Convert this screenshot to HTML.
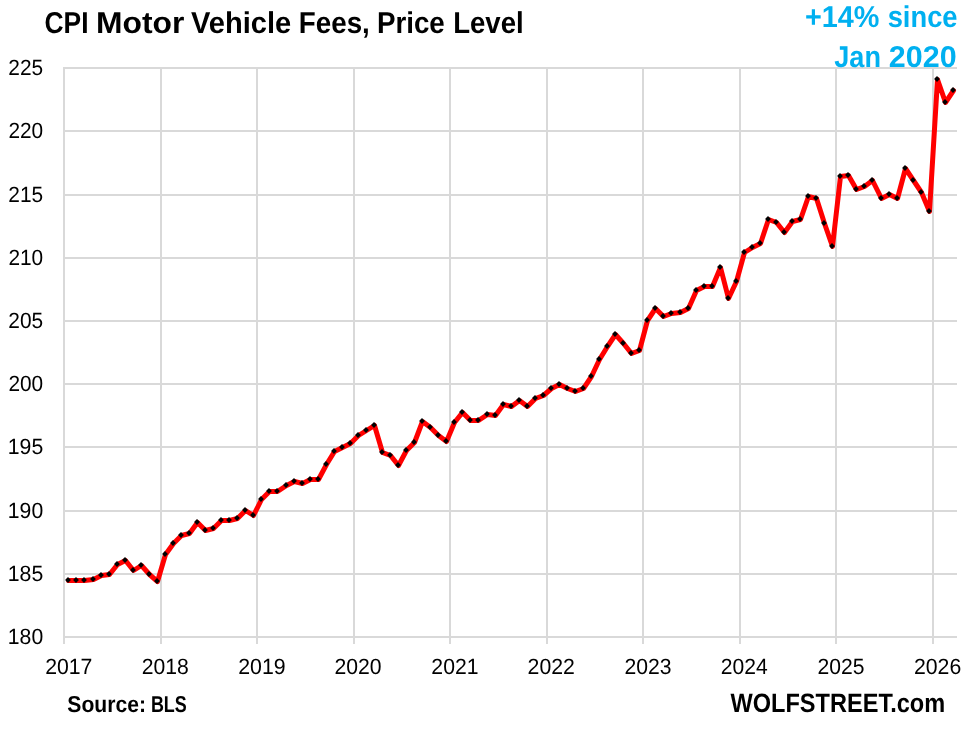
<!DOCTYPE html>
<html><head><meta charset="utf-8">
<style>
html,body{margin:0;padding:0;background:#fff;}
body{width:968px;height:734px;overflow:hidden;}
svg{display:block;will-change:transform;}
text{font-family:"Liberation Sans",sans-serif;text-rendering:geometricPrecision;}
</style></head><body>
<svg width="968" height="734" viewBox="0 0 968 734">
<rect width="968" height="734" fill="#fff"/>
<g fill="#d9d9d9"><rect x="63" y="67" width="894" height="2"/><rect x="63" y="130" width="894" height="2"/><rect x="63" y="194" width="894" height="2"/><rect x="63" y="257" width="894" height="2"/><rect x="63" y="320" width="894" height="2"/><rect x="63" y="383" width="894" height="2"/><rect x="63" y="446" width="894" height="2"/><rect x="63" y="510" width="894" height="2"/><rect x="63" y="573" width="894" height="2"/><rect x="63" y="636" width="894" height="2"/><rect x="63" y="67" width="2" height="577"/><rect x="160" y="67" width="2" height="577"/><rect x="256" y="67" width="2" height="577"/><rect x="353" y="67" width="2" height="577"/><rect x="449" y="67" width="2" height="577"/><rect x="546" y="67" width="2" height="577"/><rect x="642" y="67" width="2" height="577"/><rect x="739" y="67" width="2" height="577"/><rect x="835" y="67" width="2" height="577"/><rect x="932" y="67" width="2" height="577"/></g>
<text x="44.50" y="32.75" font-size="30.2" font-weight="bold" fill="#000" textLength="43.97" lengthAdjust="spacingAndGlyphs">CPI</text>
<text x="95.99" y="32.75" font-size="30.2" font-weight="bold" fill="#000" textLength="88.29" lengthAdjust="spacingAndGlyphs">Motor</text>
<text x="190.97" y="32.75" font-size="30.2" font-weight="bold" fill="#000" textLength="100.29" lengthAdjust="spacingAndGlyphs">Vehicle</text>
<text x="298.87" y="32.75" font-size="30.2" font-weight="bold" fill="#000" textLength="70.93" lengthAdjust="spacingAndGlyphs">Fees,</text>
<text x="376.94" y="32.75" font-size="30.2" font-weight="bold" fill="#000" textLength="67.87" lengthAdjust="spacingAndGlyphs">Price</text>
<text x="453.18" y="32.75" font-size="30.2" font-weight="bold" fill="#000" textLength="70.50" lengthAdjust="spacingAndGlyphs">Level</text>
<text x="804.95" y="26.9" font-size="30.2" font-weight="bold" fill="#00b0f0" textLength="74.47" lengthAdjust="spacingAndGlyphs">+14%</text>
<text x="887.65" y="26.9" font-size="30.2" font-weight="bold" fill="#00b0f0" textLength="69.91" lengthAdjust="spacingAndGlyphs">since</text>
<text x="834.26" y="66.5" font-size="30.2" font-weight="bold" fill="#00b0f0" textLength="46.74" lengthAdjust="spacingAndGlyphs">Jan</text>
<text x="888.86" y="66.5" font-size="30.2" font-weight="bold" fill="#00b0f0" textLength="67.75" lengthAdjust="spacingAndGlyphs">2020</text>
<text x="67.37" y="711.8" font-size="23" font-weight="bold" fill="#000" textLength="78.60" lengthAdjust="spacingAndGlyphs">Source:</text>
<text x="150.89" y="711.8" font-size="23" font-weight="bold" fill="#000" textLength="35.86" lengthAdjust="spacingAndGlyphs">BLS</text>
<text x="730.50" y="711.8" font-size="26.5" font-weight="bold" fill="#000" textLength="214.65" lengthAdjust="spacingAndGlyphs">WOLFSTREET.com</text>
<text x="8.37" y="74.9" font-size="22" font-weight="normal" fill="#000" textLength="34.84" lengthAdjust="spacingAndGlyphs">225</text>
<text x="8.38" y="137.9" font-size="22" font-weight="normal" fill="#000" textLength="34.77" lengthAdjust="spacingAndGlyphs">220</text>
<text x="8.37" y="201.9" font-size="22" font-weight="normal" fill="#000" textLength="34.84" lengthAdjust="spacingAndGlyphs">215</text>
<text x="8.38" y="264.9" font-size="22" font-weight="normal" fill="#000" textLength="34.77" lengthAdjust="spacingAndGlyphs">210</text>
<text x="8.37" y="327.9" font-size="22" font-weight="normal" fill="#000" textLength="34.84" lengthAdjust="spacingAndGlyphs">205</text>
<text x="8.38" y="390.9" font-size="22" font-weight="normal" fill="#000" textLength="34.77" lengthAdjust="spacingAndGlyphs">200</text>
<text x="7.81" y="453.9" font-size="22" font-weight="normal" fill="#000" textLength="35.45" lengthAdjust="spacingAndGlyphs">195</text>
<text x="7.84" y="517.9" font-size="22" font-weight="normal" fill="#000" textLength="35.34" lengthAdjust="spacingAndGlyphs">190</text>
<text x="7.81" y="580.9" font-size="22" font-weight="normal" fill="#000" textLength="35.45" lengthAdjust="spacingAndGlyphs">185</text>
<text x="7.84" y="643.9" font-size="22" font-weight="normal" fill="#000" textLength="35.34" lengthAdjust="spacingAndGlyphs">180</text>
<text x="45.16" y="674" font-size="22" font-weight="normal" fill="#000" textLength="47.30" lengthAdjust="spacingAndGlyphs">2017</text>
<text x="141.69" y="674" font-size="22" font-weight="normal" fill="#000" textLength="47.06" lengthAdjust="spacingAndGlyphs">2018</text>
<text x="238.27" y="674" font-size="22" font-weight="normal" fill="#000" textLength="47.40" lengthAdjust="spacingAndGlyphs">2019</text>
<text x="334.49" y="674" font-size="22" font-weight="normal" fill="#000" textLength="47.12" lengthAdjust="spacingAndGlyphs">2020</text>
<text x="431.37" y="674" font-size="22" font-weight="normal" fill="#000" textLength="47.15" lengthAdjust="spacingAndGlyphs">2021</text>
<text x="527.62" y="674" font-size="22" font-weight="normal" fill="#000" textLength="47.27" lengthAdjust="spacingAndGlyphs">2022</text>
<text x="624.44" y="674" font-size="22" font-weight="normal" fill="#000" textLength="47.08" lengthAdjust="spacingAndGlyphs">2023</text>
<text x="720.86" y="674" font-size="22" font-weight="normal" fill="#000" textLength="46.91" lengthAdjust="spacingAndGlyphs">2024</text>
<text x="817.52" y="674" font-size="22" font-weight="normal" fill="#000" textLength="46.98" lengthAdjust="spacingAndGlyphs">2025</text>
<text x="913.95" y="674" font-size="22" font-weight="normal" fill="#000" textLength="47.30" lengthAdjust="spacingAndGlyphs">2026</text>
<path d="M68.5,580.5 L76.5,580.5 L84.5,580.5 L93.5,579.5 L101.5,575.5 L109.5,574.5 L117.5,564.5 L125.5,560.5 L133.5,570.5 L141.5,565.5 L149.5,574.5 L157.5,581.5 L165.5,554.5 L173.5,543.5 L181.5,535.5 L189.5,533.5 L197.5,522.5 L205.5,530.5 L213.5,528.5 L221.5,520.5 L229.5,520.5 L237.5,518.5 L245.5,510.5 L253.5,515.5 L261.5,499.5 L269.5,491.5 L277.5,491.5 L286.5,485.5 L294.5,481.5 L302.5,483.5 L310.5,479.5 L318.5,479.5 L326.5,464.5 L334.5,451.5 L342.5,447.5 L350.5,443.5 L358.5,435.5 L366.5,430.5 L374.5,425.5 L382.5,452.5 L390.5,455.5 L398.5,465.5 L406.5,450.5 L414.5,442.5 L422.5,421.5 L430.5,427.5 L438.5,435.5 L446.5,441.5 L454.5,422.5 L462.5,412.5 L470.5,420.5 L478.5,420.5 L487.5,414.5 L495.5,415.5 L503.5,404.5 L511.5,406.5 L519.5,400.5 L527.5,406.5 L535.5,398.5 L543.5,395.5 L551.5,388.5 L559.5,384.5 L567.5,388.5 L575.5,391.5 L583.5,388.5 L591.5,376.5 L599.5,359.5 L607.5,346.5 L615.5,334.5 L623.5,343.5 L631.5,353.5 L639.5,350.5 L647.5,320.5 L655.5,308.5 L663.5,316.5 L671.5,313.5 L680.5,312.5 L688.5,308.5 L696.5,290.5 L704.5,286.5 L712.5,286.5 L720.5,267.5 L728.5,298.5 L736.5,281.5 L744.5,252.5 L752.5,247.5 L760.5,243.5 L768.5,219.5 L776.5,222.5 L784.5,232.5 L792.5,221.5 L800.5,219.5 L808.5,196.5 L816.5,198.5 L824.5,223.5 L832.5,246.5 L840.5,176.5 L848.5,175.5 L856.5,189.5 L864.5,186.5 L872.5,180.5 L881.5,198.5 L889.5,194.5 L897.5,198.5 L905.5,168.5 L913.5,180.5 L921.5,192.5 L929.5,211.5 L937.5,79.5 L945.5,102.5 L953.5,90.5" fill="none" stroke="#ff0000" stroke-width="5" stroke-linejoin="round" stroke-linecap="round"/>
<path d="M68,577.1l2.9,2.9l-2.9,2.9l-2.9,-2.9zM76,577.1l2.9,2.9l-2.9,2.9l-2.9,-2.9zM84,577.1l2.9,2.9l-2.9,2.9l-2.9,-2.9zM93,576.1l2.9,2.9l-2.9,2.9l-2.9,-2.9zM101,572.1l2.9,2.9l-2.9,2.9l-2.9,-2.9zM109,571.1l2.9,2.9l-2.9,2.9l-2.9,-2.9zM117,561.1l2.9,2.9l-2.9,2.9l-2.9,-2.9zM125,557.1l2.9,2.9l-2.9,2.9l-2.9,-2.9zM133,567.1l2.9,2.9l-2.9,2.9l-2.9,-2.9zM141,562.1l2.9,2.9l-2.9,2.9l-2.9,-2.9zM149,571.1l2.9,2.9l-2.9,2.9l-2.9,-2.9zM157,578.1l2.9,2.9l-2.9,2.9l-2.9,-2.9zM165,551.1l2.9,2.9l-2.9,2.9l-2.9,-2.9zM173,540.1l2.9,2.9l-2.9,2.9l-2.9,-2.9zM181,532.1l2.9,2.9l-2.9,2.9l-2.9,-2.9zM189,530.1l2.9,2.9l-2.9,2.9l-2.9,-2.9zM197,519.1l2.9,2.9l-2.9,2.9l-2.9,-2.9zM205,527.1l2.9,2.9l-2.9,2.9l-2.9,-2.9zM213,525.1l2.9,2.9l-2.9,2.9l-2.9,-2.9zM221,517.1l2.9,2.9l-2.9,2.9l-2.9,-2.9zM229,517.1l2.9,2.9l-2.9,2.9l-2.9,-2.9zM237,515.1l2.9,2.9l-2.9,2.9l-2.9,-2.9zM245,507.1l2.9,2.9l-2.9,2.9l-2.9,-2.9zM253,512.1l2.9,2.9l-2.9,2.9l-2.9,-2.9zM261,496.1l2.9,2.9l-2.9,2.9l-2.9,-2.9zM269,488.1l2.9,2.9l-2.9,2.9l-2.9,-2.9zM277,488.1l2.9,2.9l-2.9,2.9l-2.9,-2.9zM286,482.1l2.9,2.9l-2.9,2.9l-2.9,-2.9zM294,478.1l2.9,2.9l-2.9,2.9l-2.9,-2.9zM302,480.1l2.9,2.9l-2.9,2.9l-2.9,-2.9zM310,476.1l2.9,2.9l-2.9,2.9l-2.9,-2.9zM318,476.1l2.9,2.9l-2.9,2.9l-2.9,-2.9zM326,461.1l2.9,2.9l-2.9,2.9l-2.9,-2.9zM334,448.1l2.9,2.9l-2.9,2.9l-2.9,-2.9zM342,444.1l2.9,2.9l-2.9,2.9l-2.9,-2.9zM350,440.1l2.9,2.9l-2.9,2.9l-2.9,-2.9zM358,432.1l2.9,2.9l-2.9,2.9l-2.9,-2.9zM366,427.1l2.9,2.9l-2.9,2.9l-2.9,-2.9zM374,422.1l2.9,2.9l-2.9,2.9l-2.9,-2.9zM382,449.1l2.9,2.9l-2.9,2.9l-2.9,-2.9zM390,452.1l2.9,2.9l-2.9,2.9l-2.9,-2.9zM398,462.1l2.9,2.9l-2.9,2.9l-2.9,-2.9zM406,447.1l2.9,2.9l-2.9,2.9l-2.9,-2.9zM414,439.1l2.9,2.9l-2.9,2.9l-2.9,-2.9zM422,418.1l2.9,2.9l-2.9,2.9l-2.9,-2.9zM430,424.1l2.9,2.9l-2.9,2.9l-2.9,-2.9zM438,432.1l2.9,2.9l-2.9,2.9l-2.9,-2.9zM446,438.1l2.9,2.9l-2.9,2.9l-2.9,-2.9zM454,419.1l2.9,2.9l-2.9,2.9l-2.9,-2.9zM462,409.1l2.9,2.9l-2.9,2.9l-2.9,-2.9zM470,417.1l2.9,2.9l-2.9,2.9l-2.9,-2.9zM478,417.1l2.9,2.9l-2.9,2.9l-2.9,-2.9zM487,411.1l2.9,2.9l-2.9,2.9l-2.9,-2.9zM495,412.1l2.9,2.9l-2.9,2.9l-2.9,-2.9zM503,401.1l2.9,2.9l-2.9,2.9l-2.9,-2.9zM511,403.1l2.9,2.9l-2.9,2.9l-2.9,-2.9zM519,397.1l2.9,2.9l-2.9,2.9l-2.9,-2.9zM527,403.1l2.9,2.9l-2.9,2.9l-2.9,-2.9zM535,395.1l2.9,2.9l-2.9,2.9l-2.9,-2.9zM543,392.1l2.9,2.9l-2.9,2.9l-2.9,-2.9zM551,385.1l2.9,2.9l-2.9,2.9l-2.9,-2.9zM559,381.1l2.9,2.9l-2.9,2.9l-2.9,-2.9zM567,385.1l2.9,2.9l-2.9,2.9l-2.9,-2.9zM575,388.1l2.9,2.9l-2.9,2.9l-2.9,-2.9zM583,385.1l2.9,2.9l-2.9,2.9l-2.9,-2.9zM591,373.1l2.9,2.9l-2.9,2.9l-2.9,-2.9zM599,356.1l2.9,2.9l-2.9,2.9l-2.9,-2.9zM607,343.1l2.9,2.9l-2.9,2.9l-2.9,-2.9zM615,331.1l2.9,2.9l-2.9,2.9l-2.9,-2.9zM623,340.1l2.9,2.9l-2.9,2.9l-2.9,-2.9zM631,350.1l2.9,2.9l-2.9,2.9l-2.9,-2.9zM639,347.1l2.9,2.9l-2.9,2.9l-2.9,-2.9zM647,317.1l2.9,2.9l-2.9,2.9l-2.9,-2.9zM655,305.1l2.9,2.9l-2.9,2.9l-2.9,-2.9zM663,313.1l2.9,2.9l-2.9,2.9l-2.9,-2.9zM671,310.1l2.9,2.9l-2.9,2.9l-2.9,-2.9zM680,309.1l2.9,2.9l-2.9,2.9l-2.9,-2.9zM688,305.1l2.9,2.9l-2.9,2.9l-2.9,-2.9zM696,287.1l2.9,2.9l-2.9,2.9l-2.9,-2.9zM704,283.1l2.9,2.9l-2.9,2.9l-2.9,-2.9zM712,283.1l2.9,2.9l-2.9,2.9l-2.9,-2.9zM720,264.1l2.9,2.9l-2.9,2.9l-2.9,-2.9zM728,295.1l2.9,2.9l-2.9,2.9l-2.9,-2.9zM736,278.1l2.9,2.9l-2.9,2.9l-2.9,-2.9zM744,249.1l2.9,2.9l-2.9,2.9l-2.9,-2.9zM752,244.1l2.9,2.9l-2.9,2.9l-2.9,-2.9zM760,240.1l2.9,2.9l-2.9,2.9l-2.9,-2.9zM768,216.1l2.9,2.9l-2.9,2.9l-2.9,-2.9zM776,219.1l2.9,2.9l-2.9,2.9l-2.9,-2.9zM784,229.1l2.9,2.9l-2.9,2.9l-2.9,-2.9zM792,218.1l2.9,2.9l-2.9,2.9l-2.9,-2.9zM800,216.1l2.9,2.9l-2.9,2.9l-2.9,-2.9zM808,193.1l2.9,2.9l-2.9,2.9l-2.9,-2.9zM816,195.1l2.9,2.9l-2.9,2.9l-2.9,-2.9zM824,220.1l2.9,2.9l-2.9,2.9l-2.9,-2.9zM832,243.1l2.9,2.9l-2.9,2.9l-2.9,-2.9zM840,173.1l2.9,2.9l-2.9,2.9l-2.9,-2.9zM848,172.1l2.9,2.9l-2.9,2.9l-2.9,-2.9zM856,186.1l2.9,2.9l-2.9,2.9l-2.9,-2.9zM864,183.1l2.9,2.9l-2.9,2.9l-2.9,-2.9zM872,177.1l2.9,2.9l-2.9,2.9l-2.9,-2.9zM881,195.1l2.9,2.9l-2.9,2.9l-2.9,-2.9zM889,191.1l2.9,2.9l-2.9,2.9l-2.9,-2.9zM897,195.1l2.9,2.9l-2.9,2.9l-2.9,-2.9zM905,165.1l2.9,2.9l-2.9,2.9l-2.9,-2.9zM913,177.1l2.9,2.9l-2.9,2.9l-2.9,-2.9zM921,189.1l2.9,2.9l-2.9,2.9l-2.9,-2.9zM929,208.1l2.9,2.9l-2.9,2.9l-2.9,-2.9zM937,76.1l2.9,2.9l-2.9,2.9l-2.9,-2.9zM945,99.1l2.9,2.9l-2.9,2.9l-2.9,-2.9zM953,87.1l2.9,2.9l-2.9,2.9l-2.9,-2.9z" fill="#000"/>
</svg>
</body></html>
